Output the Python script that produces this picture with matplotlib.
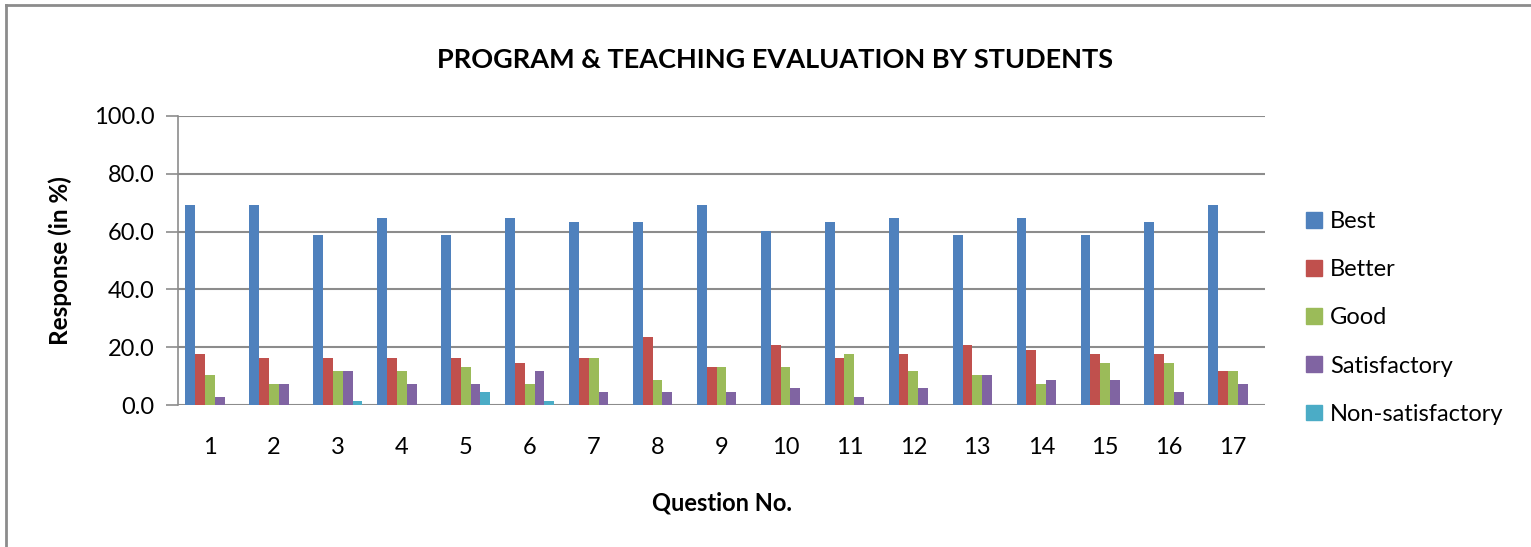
import numpy as np
import matplotlib.pyplot as plt
from matplotlib.lines import Line2D
from matplotlib.patches import Patch

plt.rcParams['font.family'] = ['Lato', 'DejaVu Sans']

questions = [str(i) for i in range(1, 18)]
best = [69.1, 69.1, 58.8, 64.7, 58.8, 64.7, 63.2, 63.2, 69.1, 60.3, 63.2, 64.7, 58.8, 64.7, 58.8, 63.2, 69.1]
better = [17.6, 16.2, 16.2, 16.2, 16.2, 14.7, 16.2, 23.5, 13.2, 20.6, 16.2, 17.6, 20.6, 19.1, 17.6, 17.6, 11.8]
good = [10.3, 7.4, 11.8, 11.8, 13.2, 7.4, 16.2, 8.8, 13.2, 13.2, 17.6, 11.8, 10.3, 7.4, 14.7, 14.7, 11.8]
satisfactory = [2.9, 7.4, 11.8, 7.4, 7.4, 11.8, 4.4, 4.4, 4.4, 5.9, 2.9, 5.9, 10.3, 8.8, 8.8, 4.4, 7.4]
non_satisfactory = [0, 0, 1.5, 0, 4.4, 1.5, 0, 0, 0, 0, 0, 0, 0, 0, 0, 0, 0]

series = [('Best', best, '#4F81BD'),
          ('Better', better, '#C0504D'),
          ('Good', good, '#9BBB59'),
          ('Satisfactory', satisfactory, '#8064A2'),
          ('Non-satisfactory', non_satisfactory, '#4BACC6')]

W, H = 1531, 547
fig = plt.figure(figsize=(W / 100, H / 100), dpi=100)
ax = fig.add_axes([178 / W, 1 - 405 / H, (1265 - 178) / W, (405 - 116) / H])

x = np.arange(1, 18)
bw = 1 / 6.5
for i, (name, vals, col) in enumerate(series):
    ax.bar(x + (i - 2) * bw, vals, width=bw, color=col, label=name, zorder=3)

ax.set_xlim(0.5, 17.5)
ax.set_ylim(0, 100)
ax.set_yticks(np.arange(0, 101, 20))
ax.set_yticklabels(['%.1f' % v for v in np.arange(0, 101, 20)])
ax.set_xticks(x)
ax.set_xticklabels(questions)
ax.yaxis.grid(True, color='#8c8c8c', linewidth=1.5, zorder=0)
for s in ['top', 'right', 'bottom']:
    ax.spines[s].set_visible(False)
ax.spines['left'].set_color('#8c8c8c')
ax.spines['left'].set_linewidth(1.2)
ax.tick_params(axis='y', length=9, width=1.2, color='#8c8c8c', labelsize=17, pad=8)
ax.tick_params(axis='x', length=0, labelsize=17, pad=23)

ax.set_ylabel('Response (in %)', fontsize=17.5, fontweight='bold', labelpad=16)
ax.set_xlabel('Question No.', fontsize=17, fontweight='bold', labelpad=24)
fig.text(775 / W, 1 - 60 / H, 'PROGRAM & TEACHING EVALUATION BY STUDENTS',
         ha='center', va='center', fontsize=19.5, fontweight='bold')

handles = [Patch(color=c) for _, _, c in series]
fig.legend(handles, [n for n, _, _ in series], loc='center left',
           bbox_to_anchor=(1285 / W, 1 - 318 / H), frameon=False, fontsize=17,
           handlelength=0.65, handleheight=0.65, handletextpad=0.35, labelspacing=1.15)

# chart area border
fig.add_artist(Line2D([6 / W, 6 / W], [0, 1 - 5 / H], color='#8c8c8c', lw=2))
fig.add_artist(Line2D([6 / W, 1], [1 - 5 / H, 1 - 5 / H], color='#8c8c8c', lw=2))

fig.savefig('out.png', dpi=100)
